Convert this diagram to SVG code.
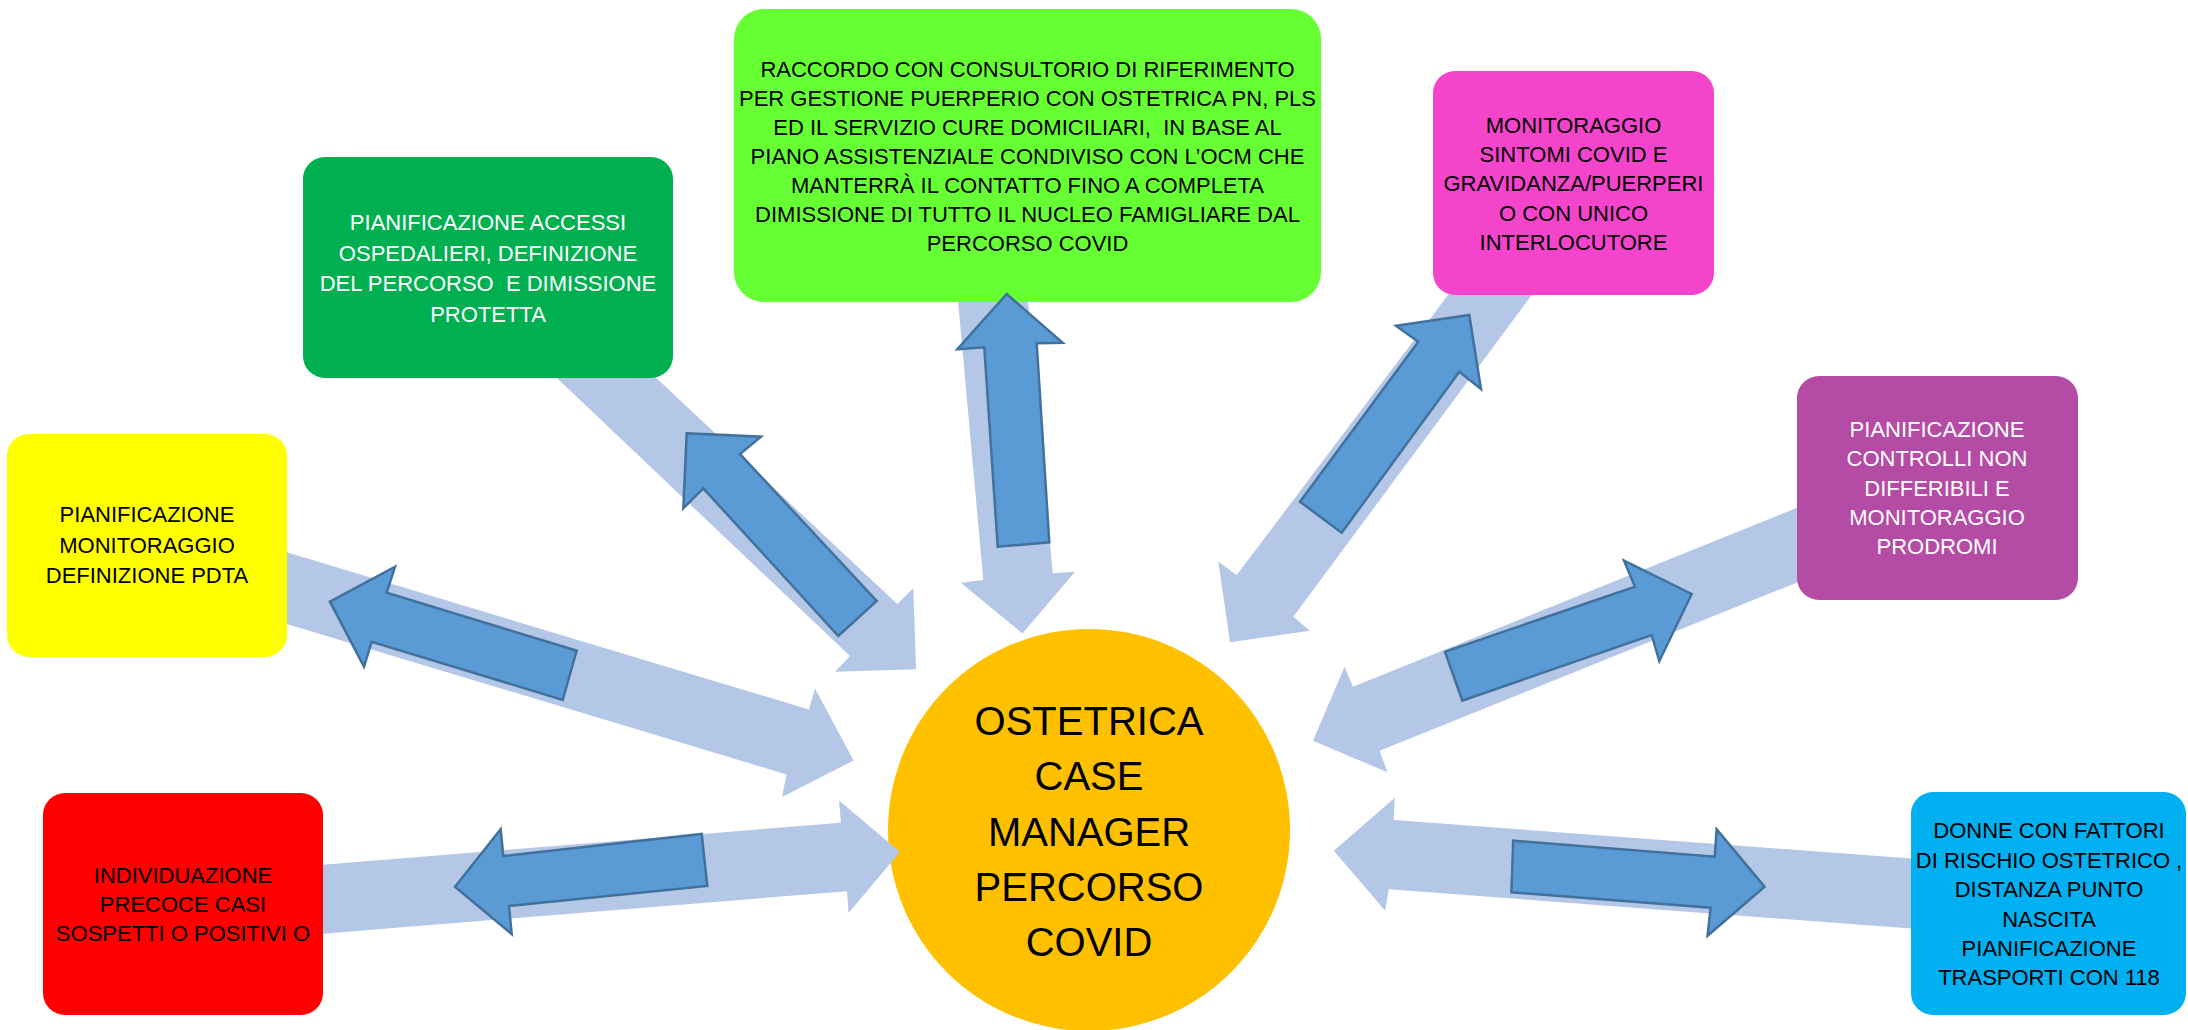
<svg xmlns="http://www.w3.org/2000/svg" width="2188" height="1030" viewBox="0 0 2188 1030">
<style>
.light{fill:#B4C7E7;stroke:none}
.dark{fill:#5B9BD5;stroke:#41719C;stroke-width:2.5;stroke-linejoin:miter}
.t{font-family:"Liberation Sans",Arial,sans-serif;font-size:22px;text-anchor:middle;fill:#000}
.w{fill:#FFFFFF}
.big{font-family:"Liberation Sans",Arial,sans-serif;font-size:40px;text-anchor:middle;fill:#000}
</style>
<rect x="0" y="0" width="2188" height="1030" fill="#FFFFFF"/>

<g id="center">
<circle cx="1089" cy="830" r="201" fill="#FFC000"/>
<text class="big" x="1089" y="735">OSTETRICA</text>
<text class="big" x="1089" y="790">CASE</text>
<text class="big" x="1089" y="846">MANAGER</text>
<text class="big" x="1089" y="901">PERCORSO</text>
<text class="big" x="1089" y="956">COVID</text>
</g>

<g id="connectors-light">
<polygon class="light" points="285,551.8 809,709.5 815,688.5 853.6,760.5 782,797 786.5,774.4 285,623.5"/>
<polygon class="light" points="320,864.9 841,822.7 839,800.5 900,852 848.5,913 847,891.2 320,933.9"/>
<polygon class="light" points="548.4,370 850,656 835,671.7 916,669.3 913.3,588.3 897.3,604 647.8,370"/>
<polygon class="light" points="957.5,295 983.3,580 960.7,582.7 1022.5,633.5 1075,571.7 1052.7,573.3 1027.5,295"/>
<polygon class="light" points="1453.3,288 1236.7,575 1218.3,561.7 1230,642.3 1310,630.7 1293.3,616.7 1536.9,288"/>
<polygon class="light" points="1805,504.6 1352.9,686.7 1344.6,666.7 1313,740.7 1387.5,772.3 1379.6,750.7 1805,579.3"/>
<polygon class="light" points="1918,859 1393.6,820 1394.8,797.7 1333.8,850.7 1385.2,910.7 1388.8,889.3 1918,929"/>
</g>

<g id="box-yellow">
<rect x="7" y="434" width="280" height="223" rx="22" fill="#FFFF00"/>
<text class="t" x="147" y="522">PIANIFICAZIONE</text>
<text class="t" x="147" y="553">MONITORAGGIO</text>
<text class="t" x="147" y="583">DEFINIZIONE PDTA</text>
</g>

<g id="box-red">
<rect x="43" y="793" width="280" height="222" rx="22" fill="#FF0000"/>
<text class="t" x="183" y="883">INDIVIDUAZIONE</text>
<text class="t" x="183" y="912">PRECOCE CASI</text>
<text class="t" x="183" y="941">SOSPETTI O POSITIVI O</text>
</g>

<g id="box-darkgreen">
<rect x="303" y="157" width="370" height="221" rx="22" fill="#00B050"/>
<text class="t w" x="488" y="230">PIANIFICAZIONE ACCESSI</text>
<text class="t w" x="488" y="260.7">OSPEDALIERI, DEFINIZIONE</text>
<text class="t w" x="488" y="291.3">DEL PERCORSO&#160; E DIMISSIONE</text>
<text class="t w" x="488" y="322">PROTETTA</text>
</g>

<g id="box-lime">
<rect x="734" y="9" width="587" height="293" rx="30" fill="#66FF33"/>
<text class="t" x="1027.5" y="77">RACCORDO CON CONSULTORIO DI RIFERIMENTO</text>
<text class="t" x="1027.5" y="106">PER GESTIONE PUERPERIO CON OSTETRICA PN, PLS</text>
<text class="t" x="1027.5" y="135">ED IL SERVIZIO CURE DOMICILIARI,&#160; IN BASE AL</text>
<text class="t" x="1027.5" y="164">PIANO ASSISTENZIALE CONDIVISO CON L’OCM CHE</text>
<text class="t" x="1027.5" y="193">MANTERRÀ IL CONTATTO FINO A COMPLETA</text>
<text class="t" x="1027.5" y="222">DIMISSIONE DI TUTTO IL NUCLEO FAMIGLIARE DAL</text>
<text class="t" x="1027.5" y="251">PERCORSO COVID</text>
</g>

<g id="box-magenta">
<rect x="1433" y="71" width="281" height="224" rx="22" fill="#F444CB"/>
<text class="t" x="1573.5" y="133">MONITORAGGIO</text>
<text class="t" x="1573.5" y="162">SINTOMI COVID E</text>
<text class="t" x="1573.5" y="191">GRAVIDANZA/PUERPERI</text>
<text class="t" x="1573.5" y="220.5">O CON UNICO</text>
<text class="t" x="1573.5" y="249.5">INTERLOCUTORE</text>
</g>

<g id="box-purple">
<rect x="1797" y="376" width="281" height="224" rx="22" fill="#B44BA5"/>
<text class="t w" x="1937" y="437">PIANIFICAZIONE</text>
<text class="t w" x="1937" y="466.4">CONTROLLI NON</text>
<text class="t w" x="1937" y="496.3">DIFFERIBILI E</text>
<text class="t w" x="1937" y="525">MONITORAGGIO</text>
<text class="t w" x="1937" y="553.7">PRODROMI</text>
</g>

<g id="box-cyan">
<rect x="1911" y="792" width="275" height="223" rx="22" fill="#00B0F0"/>
<text class="t" x="2049" y="838">DONNE CON FATTORI</text>
<text class="t" x="2049" y="868">DI RISCHIO OSTETRICO ,</text>
<text class="t" x="2049" y="897">DISTANZA PUNTO</text>
<text class="t" x="2049" y="927">NASCITA</text>
<text class="t" x="2049" y="956">PIANIFICAZIONE</text>
<text class="t" x="2049" y="985">TRASPORTI CON 118</text>
</g>

<g id="connectors-dark">
<polygon class="dark" points="330,601.7 395,566.7 386.7,592.7 576.7,650.7 562.7,700 371.7,641.7 364,666.7"/>
<polygon class="dark" points="455,886.7 500.7,829.3 503.3,856 701.7,834 707.3,886 509,906 511.7,934"/>
<polygon class="dark" points="686.7,433.3 761,436.7 740,454 876.7,601 838.3,636 703.3,488.3 683.3,508.3"/>
<polygon class="dark" points="1006.7,294 1062.7,342.7 1036.7,343.3 1049.3,542.3 997.7,546.7 984.3,347.3 957.3,349.3"/>
<polygon class="dark" points="1469.3,315 1481,389 1459.3,371.7 1341.7,532.7 1300,501.7 1418.3,341.7 1396,325.7"/>
<polygon class="dark" points="1691.7,594 1659.3,661 1651.7,635 1462.3,700.7 1445,651.7 1635,586.7 1624,560.7"/>
<polygon class="dark" points="1764.5,886.7 1707.6,935.7 1710.6,907.7 1511.4,892.3 1513.2,840.7 1714.8,856.7 1716.6,829.3"/>
</g>
</svg>
